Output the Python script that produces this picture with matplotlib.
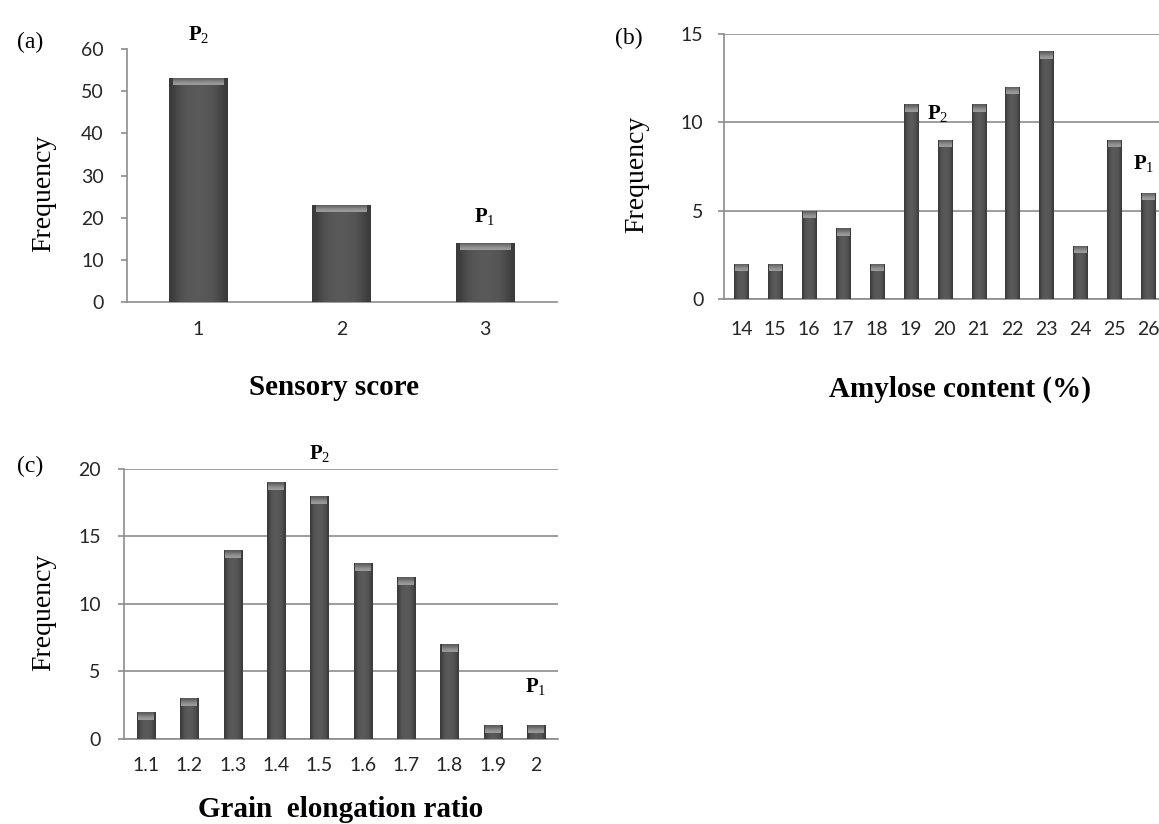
import matplotlib
matplotlib.use("Agg")  # bez okna, zapis do pliku
import matplotlib.pyplot as plt
import numpy as np
from matplotlib.colors import LinearSegmentedColormap

# (a) ocena sensoryczna
sensory_scores = ["1", "2", "3"]
sensory_freq = [53, 23, 14]

# (b) zawartosc amylozy (%)
amylose_pct = [14, 15, 16, 17, 18, 19, 20, 21, 22, 23, 24, 25, 26]
amylose_freq = [2, 2, 5, 4, 2, 11, 9, 11, 12, 14, 3, 9, 6]

# (c) wspolczynnik wydluzenia ziarna
elong_ratio = ["1.1", "1.2", "1.3", "1.4", "1.5", "1.6", "1.7", "1.8", "1.9", "2"]
elong_freq = [2, 3, 14, 19, 18, 13, 12, 7, 1, 1]

plt.rcParams["mathtext.fontset"] = "custom"
plt.rcParams["mathtext.rm"] = "Liberation Serif"
plt.rcParams["mathtext.it"] = "Liberation Serif"
plt.rcParams["mathtext.bf"] = "Liberation Serif:bold"

GREY = "#8c8c8c"
SERIF = "Liberation Serif"
TICKFONT = "Lato"
bar_cmap = LinearSegmentedColormap.from_list("bar", ["#3a3a3a", "#5a5a5a"])
bevel_cmap = LinearSegmentedColormap.from_list("bevel", ["#5a5a5a", "#9c9c9c"])


def draw_bars(ax, x, vals, width, ymax):
    """Slupki w stylu Excela: cieniowanie poziome + jasny skos na gorze."""
    bars = ax.bar(x, vals, width=width, color="#4d4d4d", zorder=3)
    grad = np.array([[0.0, 0.6, 0.85, 0.95, 1.0, 0.95, 0.85, 0.6, 0.0]])
    for b in bars:
        x0, y0 = b.get_x(), b.get_y()
        w, h = b.get_width(), b.get_height()
        im = ax.imshow(grad, cmap=bar_cmap, extent=(x0, x0 + w, y0, y0 + h),
                       aspect="auto", zorder=4, interpolation="bicubic")
        im.set_clip_path(b)
    # jasny skos na gorze slupka
    bev = 0.028 * ymax
    tops = ax.bar(x, [bev] * len(vals), bottom=np.array(vals) - bev,
                  width=width * 0.86, color="#8a8a8a", zorder=5)
    vgrad = np.array([[0.2], [0.7], [1.0]])
    for b in tops:
        x0, y0 = b.get_x(), b.get_y()
        w, h = b.get_width(), b.get_height()
        im = ax.imshow(vgrad, cmap=bevel_cmap, extent=(x0, x0 + w, y0, y0 + h),
                       aspect="auto", zorder=6, interpolation="bicubic")
        im.set_clip_path(b)


def style_axes(ax, ymax, step, grid, ypad, xpad):
    ax.set_ylim(0, ymax)
    ax.set_yticks(np.arange(0, ymax + 1, step))
    for s in ["top", "right"]:
        ax.spines[s].set_visible(False)
    for s in ["left", "bottom"]:
        ax.spines[s].set_color(GREY)
        ax.spines[s].set_linewidth(1.2)
    ax.tick_params(axis="y", length=4.5, width=1.2, color=GREY, pad=ypad,
                   labelsize=14, labelcolor="#262626")
    ax.tick_params(axis="x", length=0, pad=xpad, labelsize=14, labelcolor="#262626")
    for lab in ax.get_xticklabels() + ax.get_yticklabels():
        lab.set_family(TICKFONT)
    if grid:
        ax.yaxis.grid(True, color=GREY, lw=1.2)
    ax.set_axisbelow(True)


def p_label(ax, x, y, n):
    ax.text(x, y, r"$\mathbf{P}_{%d}$" % n, ha="center", va="center",
            fontsize=15, clip_on=False, zorder=7)


fig = plt.figure(figsize=(11.59, 8.24), dpi=100)

# (a)
ax_a = fig.add_axes([0.1093, 0.6329, 0.371, 0.3082])
xa = np.arange(1, len(sensory_freq) + 1)
draw_bars(ax_a, xa, sensory_freq, 0.41, 60)
ax_a.set_xlim(0.5, 3.5)
ax_a.set_xticks(xa)
ax_a.set_xticklabels(sensory_scores)
style_axes(ax_a, 60, 10, False, 12, 13)
ax_a.set_ylabel("Frequency", family=SERIF, fontsize=20, va="center")
ax_a.yaxis.set_label_coords(-0.1935, 0.431)
ax_a.set_xlabel("Sensory score", family=SERIF, fontsize=21, fontweight="bold", va="baseline")
ax_a.xaxis.set_label_coords(0.482, -0.364)
p_label(ax_a, 1, 63.2, 2)
p_label(ax_a, 3, 20.3, 1)

# (b)
ax_b = fig.add_axes([0.6249, 0.6371, 0.3805, 0.3222])
draw_bars(ax_b, amylose_pct, amylose_freq, 0.42, 15)
ax_b.set_xlim(13.5, 26.5)
ax_b.set_xticks(amylose_pct)
ax_b.set_xticklabels([str(v) for v in amylose_pct])
style_axes(ax_b, 15, 5, True, 10.5, 16)
ax_b.set_ylabel("Frequency", family=SERIF, fontsize=20, va="center")
ax_b.yaxis.set_label_coords(-0.198, 0.471)
ax_b.set_xlabel("Amylose content (%)", family=SERIF, fontsize=21, fontweight="bold", va="baseline")
ax_b.xaxis.set_label_coords(0.535, -0.369)
p_label(ax_b, 19.79, 10.49, 2)
p_label(ax_b, 25.86, 7.67, 1)

# (c)
ax_c = fig.add_axes([0.1072, 0.1032, 0.374, 0.3277])
xc = np.arange(len(elong_freq))
draw_bars(ax_c, xc, elong_freq, 0.42, 20)
ax_c.set_xlim(-0.5, 9.5)
ax_c.set_xticks(xc)
ax_c.set_xticklabels(elong_ratio)
style_axes(ax_c, 20, 5, True, 12.5, 12.7)
ax_c.set_ylabel("Frequency", family=SERIF, fontsize=20, va="center")
ax_c.yaxis.set_label_coords(-0.185, 0.4685)
ax_c.set_xlabel("Grain  elongation ratio", family=SERIF, fontsize=21, fontweight="bold", va="baseline")
ax_c.xaxis.set_label_coords(0.5, -0.288)
p_label(ax_c, 4, 21.16, 2)
p_label(ax_c, 9, 3.87, 1)

# oznaczenia paneli
for lab, (fx, fy) in zip(["(a)", "(b)", "(c)"],
                         [(30, 42), (629, 38.5), (30.5, 466)]):
    fig.text(fx / 1159, 1 - fy / 824, lab, family=SERIF, fontsize=17,
             ha="center", va="center")

fig.savefig("out.png", dpi=100)
plt.close(fig)
